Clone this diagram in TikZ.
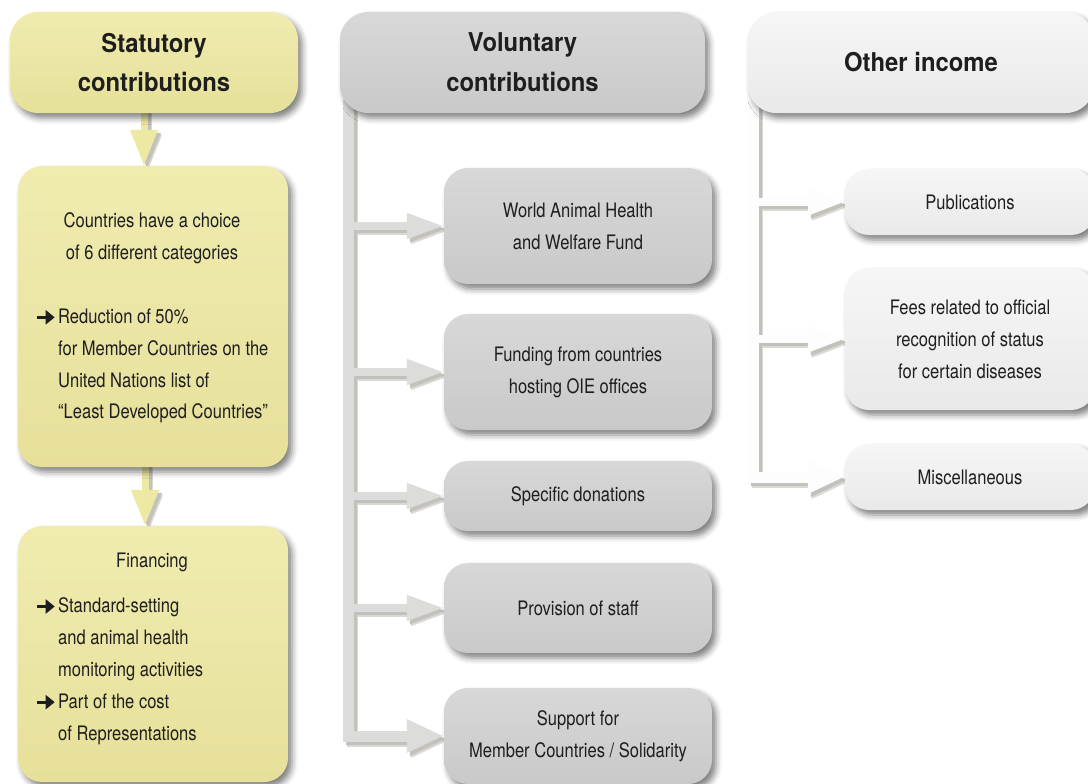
\documentclass[tikz,border=0pt]{standalone}
\usepackage{fontspec}
\setmainfont{TeX Gyre Heros}[FakeStretch=0.83]
\newfontfamily\hdfont{TeX Gyre Heros}[FakeStretch=0.92]
\usetikzlibrary{shadows.blur,arrows.meta}
\pgfdeclarelayer{backlayer}
\pgfdeclarelayer{bglayer}
\pgfsetlayers{backlayer,bglayer,main}
\definecolor{bgc}{HTML}{F1EFEA}
\definecolor{ytop}{HTML}{F0ECB0}
\definecolor{ybot}{HTML}{E6E09A}
\definecolor{gtop}{HTML}{D8D8D8}
\definecolor{gbot}{HTML}{C9C9C9}
\definecolor{wtop}{HTML}{F6F6F6}
\definecolor{wbot}{HTML}{E9E9E9}
\definecolor{ycon}{HTML}{EEE9A2}
\definecolor{gcon}{HTML}{DCDCDB}
\definecolor{wcon}{HTML}{FDFDFD}
\definecolor{shsoft}{HTML}{DAD8D3}
\definecolor{shcore}{HTML}{C3C1BC}
\definecolor{txt}{HTML}{1E1E1E}
\newcommand{\arr}{\makebox[23bp][l]{\tikz[x=1bp,y=1bp,baseline=0pt]\draw[txt,line width=3bp,-{Triangle[length=9bp,width=14bp]}] (0,6) -- (18,6);}}
\tikzset{
  shd/.style={blur shadow={shadow xshift=4bp, shadow yshift=-5bp, shadow blur radius=6bp, shadow opacity=50}},
  box/.style={rectangle, rounded corners=24bp, inner sep=0pt, text=txt, shd,
    font=\fontsize{20}{32}\selectfont, align=center},
  hbox/.style={box, rounded corners=28bp, font=\hdfont\bfseries\fontsize{26}{40}\selectfont},
  ybox/.style={top color=ytop, bottom color=ybot},
  gbox/.style={top color=gtop, bottom color=gbot},
  wbox/.style={top color=wtop, bottom color=wbot},
  btxt/.style={inner sep=0pt, text=txt, font=\fontsize{20}{32}\selectfont},
  softsh/.style={draw=shsoft, transform canvas={shift={(4bp,-5bp)}}},
  coresh/.style={draw=shcore, transform canvas={shift={(3bp,-3bp)}}},
  yarr/.style={draw=ycon, line width=7bp, -{Triangle[length=36bp,width=26bp]}},
  garr/.style={draw=gcon, line width=7.5bp, -{Triangle[length=37bp,width=24bp]}},
  gtrunk/.style={draw=gcon, line width=11bp, -{Triangle[length=37bp,width=31bp]}},
  warr/.style={draw=wcon, line width=7.5bp, -{Triangle[length=37bp,width=25bp]}},
  wtrunk/.style={draw=wcon, line width=11bp, -{Triangle[length=37bp,width=31bp]}},
}
% all connectors, drawn with an extra style (used for the shadow passes and the final pass)
\newcommand{\connectors}[1]{%
  \draw[yarr,#1] (ys1) -- (ys1 |- cat.north);
  \draw[yarr,#1] (ys2) -- (ys2 |- fin.north);
  \draw[gtrunk,#1] (vt) -- (vt |- sup.west) -- (sup.west);
  \draw[garr,#1] (vt |- wah.west) -- (wah.west);
  \draw[garr,#1] (vt |- fund.west) -- (fund.west);
  \draw[garr,#1] (vt |- spec.west) -- (spec.west);
  \draw[garr,#1] (vt |- staff.west) -- (staff.west);
  \draw[wtrunk,#1] (ot) -- (ot |- misc.west) -- (misc.west);
  \draw[warr,#1] (ot |- pub.west) -- (pub.west);
  \draw[warr,#1] (ot |- fees.west) -- (fees.west);
}
\begin{document}
\begin{tikzpicture}[x=1bp,y=-1bp]
\useasboundingbox (0,0) rectangle (1088,784);
\begin{pgfonlayer}{backlayer}
\fill[bgc] (0,0) rectangle (1088,784);
\end{pgfonlayer}
% throw-away shadow, hidden later under the "Provision of staff" box
\node[shd, fill=gcon, minimum size=8bp, inner sep=0pt] (dummy) at (578,608) {};

% Statutory column
\node[hbox, ybox, minimum width=288bp, minimum height=101bp] (stat) at (154,62.5) {Statutory\\contributions};
\node[box, ybox, minimum width=270bp, minimum height=301bp] (cat) at (153,316.5) {};
\node[box, ybox, minimum width=270bp, minimum height=256bp] (fin) at (153,654) {};
\node[btxt, align=center] (catA) at (152,238) {Countries have a choice\\of 6 different categories};
\node[btxt, align=left, anchor=west] (catB) at (35,366) {\arr Reduction of 50\%\\\hspace*{23bp}for Member Countries on the\\\hspace*{23bp}United Nations list of\\\hspace*{23bp}“Least Developed Countries”};
\node[btxt] (finA) at (152,562) {Financing};
\node[btxt, align=left, anchor=west] (finB) at (35,671) {\arr Standard-setting\\\hspace*{23bp}and animal health\\\hspace*{23bp}monitoring activities\\\arr Part of the cost\\\hspace*{23bp}of Representations};

% Voluntary column
\node[hbox, gbox, minimum width=365bp, minimum height=101bp] (vol) at (522.5,62.5) {Voluntary\\contributions};
\node[box, gbox, minimum width=268bp, minimum height=116bp] (wah) at (578,226) {World Animal Health\\and Welfare Fund};
\node[box, gbox, minimum width=268bp, minimum height=116bp] (fund) at (578,372) {Funding from countries\\hosting OIE offices};
\node[box, gbox, minimum width=268bp, minimum height=70bp] (spec) at (578,496) {Specific donations};
\node[box, gbox, minimum width=268bp, minimum height=90bp] (staff) at (578,608) {Provision of staff};
\node[box, gbox, minimum width=268bp, minimum height=96bp] (sup) at (578,736) {Support for\\Member Countries / Solidarity};

% Other income column
\node[hbox, wbox, minimum width=346bp, minimum height=101bp] (oth) at (921,62.5) {Other income};
\node[box, wbox, minimum width=250bp, minimum height=66bp] (pub) at (970,202) {Publications};
\node[box, wbox, minimum width=250bp, minimum height=142bp] (fees) at (970,339) {Fees related to official\\recognition of status\\for certain diseases};
\node[box, wbox, minimum width=250bp, minimum height=66bp] (misc) at (970,477) {Miscellaneous};

\coordinate (ys1) at (144,100);
\coordinate (ys2) at (145,455);
\coordinate (vt) at (348,100);
\coordinate (ot) at (753,100);

\begin{pgfonlayer}{bglayer}
\connectors{softsh}
\connectors{coresh}
\connectors{}
\end{pgfonlayer}
\end{tikzpicture}
\end{document}
